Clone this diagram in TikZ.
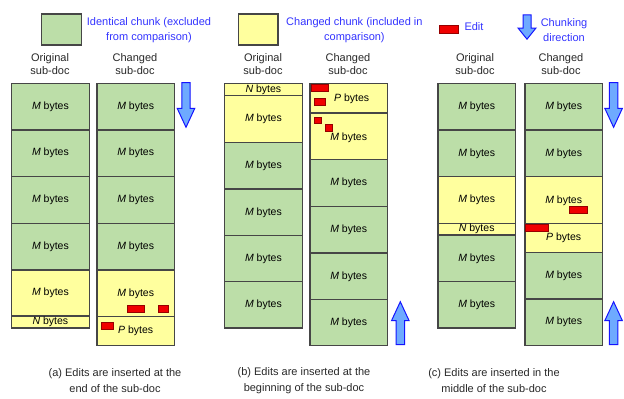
\documentclass[tikz,border=0pt]{standalone}
\usepackage{fontspec}
\setmainfont{Liberation Sans}
\definecolor{chgreen}{RGB}{188,222,168}
\definecolor{chyellow}{RGB}{255,255,158}
\definecolor{chborder}{RGB}{70,70,70}
\definecolor{legblue}{RGB}{51,51,255}
\definecolor{arrfill}{RGB}{110,170,255}
\definecolor{arrline}{RGB}{20,20,255}
\definecolor{editred}{RGB}{240,0,0}
\definecolor{editline}{RGB}{150,0,0}
\definecolor{txt}{RGB}{40,40,40}
\tikzset{
  chunk/.style={draw=chborder, line width=1.3pt, anchor=north west, inner sep=0pt,
    minimum width=77.5pt, font=\fontsize{10.5}{12}\selectfont, text=black},
  gch/.style={chunk, fill=chgreen},
  ych/.style={chunk, fill=chyellow},
  edit/.style={draw=editline, line width=0.5pt, fill=editred, anchor=north west, inner sep=0pt},
  flowarrow/.style={draw=arrline, line width=1pt, fill=arrfill},
  header/.style={align=center, text=txt, font=\fontsize{11}{13.4}\selectfont},
  legtext/.style={align=center, text=legblue, font=\fontsize{11}{15}\selectfont},
  caption/.style={align=center, text=txt, font=\fontsize{11}{16}\selectfont},
  pics/darr/.style={code={
    \draw[flowarrow] (-4.2,0) -- (4.2,0) -- (4.2,25.6) -- (8.8,25.6) -- (0,44.6)
      -- (-8.8,25.6) -- (-4.2,25.6) -- cycle;}},
  pics/uarr/.style={code={
    \draw[flowarrow] (-4.2,0) -- (4.2,0) -- (4.2,-24) -- (8.8,-24) -- (0,-43)
      -- (-8.8,-24) -- (-4.2,-24) -- cycle;}}
}
\newcommand{\Mb}{\textit{M} bytes}
\begin{document}
\begin{tikzpicture}[x=1pt,y=-1pt]
\useasboundingbox (0,0) rectangle (624,399);
% ---------- legend ----------
\node[draw=chborder, line width=1.3pt, fill=chgreen, minimum width=40pt, minimum height=31pt, anchor=north west, inner sep=0pt] (lgG) at (40.8,13.2) {};
\node[legtext] (lgGt) at (149,30) {Identical chunk (excluded\\from comparison)};
\node[draw=chborder, line width=1.3pt, fill=chyellow, minimum width=39.6pt, minimum height=31pt, anchor=north west, inner sep=0pt] (lgY) at (237.6,13.2) {};
\node[legtext] (lgYt) at (354.4,30) {Changed chunk (included in\\comparison)};
\node[edit, minimum width=18.5pt, minimum height=8pt] (lgE) at (439.2,25.2) {};
\node[legtext, anchor=west] (lgEt) at (461,27) {Edit};
\draw[flowarrow] (523,14.8) -- (531,14.8) -- (531,28) -- (536,28) -- (527,39.2) -- (518,28) -- (523,28) -- cycle;
\coordinate (lgA) at (527,27);
\node[legtext] (lgAt) at (564,30) {Chunking\\direction};
% ---------- panel (a) ----------
\node[header] (ha1) at (50,64) {Original\\sub-doc};
\node[header] (ha2) at (135,64) {Changed\\sub-doc};
\node[gch, minimum height=46.6pt] (ao1) at (11,82.7) {\Mb};
\node[gch, minimum height=46.6pt] (ao2) at (11,129.3) {\Mb};
\node[gch, minimum height=46.6pt] (ao3) at (11,176) {\Mb};
\node[gch, minimum height=46.6pt] (ao4) at (11,222.7) {\Mb};
\node[ych, minimum height=46pt] (ao5) at (11,269.3) {\Mb};
\node[ych, minimum height=12pt] (ao6) at (11,315.3) {\textit{N} bytes};
\node[gch, minimum height=46.6pt] (ac1) at (96.3,82.7) {\Mb};
\node[gch, minimum height=46.6pt] (ac2) at (96.3,129.3) {\Mb};
\node[gch, minimum height=46.6pt] (ac3) at (96.3,176) {\Mb};
\node[gch, minimum height=46.6pt] (ac4) at (96.3,222.7) {\Mb};
\node[ych, minimum height=46.7pt] (ac5) at (96.3,269.3) {\Mb};
\node[ych, minimum height=28.7pt] (ac6) at (96.3,316) {\textit{P} bytes};
\node[edit, minimum width=17.6pt, minimum height=6.7pt] (ae1) at (126.7,305) {};
\node[edit, minimum width=10pt, minimum height=6.7pt] (ae2) at (157.7,305) {};
\node[edit, minimum width=12.3pt, minimum height=7pt] (ae3) at (101,321.7) {};
\pic at (186,82.7) {darr};
\node[caption] (capa) at (115,381) {(a) Edits are inserted at the\\end of the sub-doc};
% ---------- panel (b) ----------
\node[header] (hb1) at (263,64) {Original\\sub-doc};
\node[header] (hb2) at (348,64) {Changed\\sub-doc};
\node[ych, minimum height=12.3pt] (bo1) at (224,82.7) {\textit{N} bytes};
\node[ych, minimum height=46.7pt] (bo2) at (224,95) {\Mb};
\node[gch, minimum height=46.6pt] (bo3) at (224,141.7) {\Mb};
\node[gch, minimum height=46.7pt] (bo4) at (224,188.3) {\Mb};
\node[gch, minimum height=46pt] (bo5) at (224,235) {\Mb};
\node[gch, minimum height=46.3pt] (bo6) at (224,281) {\Mb};
\node[ych, minimum height=29.6pt, text depth=-2pt] (bc1) at (309.3,82.7) {\hspace{6pt}\textit{P} bytes};
\node[ych, minimum height=46.7pt, text depth=-3pt] (bc2) at (309.3,112.3) {\Mb};
\node[gch, minimum height=46.7pt] (bc3) at (309.3,159) {\Mb};
\node[gch, minimum height=46.6pt] (bc4) at (309.3,205.7) {\Mb};
\node[gch, minimum height=46.7pt] (bc5) at (309.3,252.3) {\Mb};
\node[gch, minimum height=45.7pt] (bc6) at (309.3,299) {\Mb};
\node[edit, minimum width=17.3pt, minimum height=6.7pt] (be1) at (311,84.3) {};
\node[edit, minimum width=11.3pt, minimum height=6.7pt] (be2) at (313.7,98.3) {};
\node[edit, minimum width=6.4pt, minimum height=6.6pt] (be3) at (314.3,116.7) {};
\node[edit, minimum width=6.7pt, minimum height=6.7pt] (be4) at (325,124.3) {};
\pic at (400.3,344.7) {uarr};
\node[caption] (capb) at (304,381) {(b) Edits are inserted at the\\beginning of the sub-doc};
% ---------- panel (c) ----------
\node[header] (hc1) at (475,64) {Original\\sub-doc};
\node[header] (hc2) at (561,64) {Changed\\sub-doc};
\node[gch, minimum height=46.6pt] (co1) at (437.3,82.7) {\Mb};
\node[gch, minimum height=46.7pt] (co2) at (437.3,129.3) {\Mb};
\node[ych, minimum height=46.7pt] (co3) at (437.3,176) {\Mb};
\node[ych, minimum height=11.6pt] (co4) at (437.3,222.7) {\textit{N} bytes};
\node[gch, minimum height=46.7pt] (co5) at (437.3,234.3) {\Mb};
\node[gch, minimum height=46.3pt] (co6) at (437.3,281) {\Mb};
\node[gch, minimum height=46.6pt] (cc1) at (524.3,82.7) {\Mb};
\node[gch, minimum height=46.7pt] (cc2) at (524.3,129.3) {\Mb};
\node[ych, minimum height=46.7pt, text depth=-3pt] (cc3) at (524.3,176) {\Mb};
\node[ych, minimum height=29pt] (cc4) at (524.3,222.7) {\textit{P} bytes};
\node[gch, minimum height=46.6pt] (cc5) at (524.3,251.7) {\Mb};
\node[gch, minimum height=46.4pt] (cc6) at (524.3,298.3) {\Mb};
\node[edit, minimum width=17.7pt, minimum height=7pt] (ce1) at (569,205.7) {};
\node[edit, minimum width=23.3pt, minimum height=7.3pt] (ce2) at (525,223.7) {};
\pic at (613.6,82.7) {darr};
\pic at (613.6,344.7) {uarr};
\node[caption] (capc) at (494,381) {(c) Edits are inserted in the\\middle of the sub-doc};
\end{tikzpicture}
\end{document}
